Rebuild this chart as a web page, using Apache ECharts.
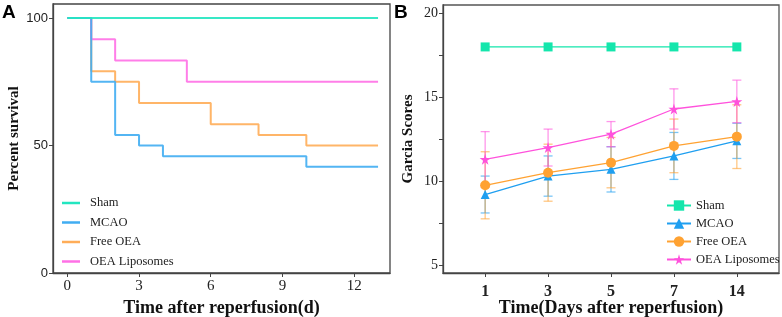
<!DOCTYPE html>
<html>
<head>
<meta charset="utf-8">
<script src="https://cdn.jsdelivr.net/npm/echarts@6/dist/echarts.min.js"></script>
<style>
  html, body { margin: 0; padding: 0; background: #ffffff; }
  #chart { width: 782px; height: 317px; }
</style>
</head>
<body>
<div id="chart"></div>
<script>
// panel A: Kaplan-Meier survival, [day, percent]
var groups = ['Sham', 'MCAO', 'Free OEA', 'OEA Liposomes'];
var survSham = [[0, 100], [13, 100]];
var survMcao = [[0, 100], [1, 75], [2, 54.17], [3, 50], [4, 45.83], [10, 41.67], [13, 41.67]];
var survFree = [[0, 100], [1, 79.17], [2, 75], [3, 66.67], [6, 58.33], [8, 54.17], [10, 50], [13, 50]];
var survLipo = [[0, 100], [1, 91.67], [2, 83.33], [5, 75], [13, 75]];
var survTicksX = [0, 3, 6, 9, 12];
var survTicksY = [0, 50, 100];

// panel B: Garcia scores, mean and SD
var days = ['1', '3', '5', '7', '14'];
var shamMean = [18, 18, 18, 18, 18];
var mcaoMean = [9.2, 10.3, 10.7, 11.5, 12.4];
var mcaoSd = [1.1, 1.2, 1.35, 1.4, 1.05];
var freeMean = [9.75, 10.5, 11.1, 12.1, 12.65];
var freeSd = [2.0, 1.7, 1.5, 1.6, 1.9];
var lipoMean = [11.3, 12.0, 12.8, 14.3, 14.75];
var lipoSd = [1.65, 1.1, 0.75, 1.2, 1.27];
var scoreTicks = [5, 10, 15, 20];
var scoreMinor = [5, 7.5, 10, 12.5, 15, 17.5, 20];

var colA = ['#22e6c0', '#40adf2', '#ffad58', '#ff70e6'];
var colB = ['#14e6ac', '#1f9ff0', '#ffa232', '#ff52dc'];
var serif = 'Liberation Serif';

function pts(mean) {
  return mean.map(function (v, i) { return [i, v]; });
}
function bars(mean, sd) {
  return mean.map(function (v, i) { return [i, v - sd[i], v + sd[i]]; });
}

function errRender(params, api) {
  var x = api.value(0);
  var top = api.coord([x, api.value(2)]);
  var bot = api.coord([x, api.value(1)]);
  var w = 4.5;
  var st = { stroke: api.visual('color'), lineWidth: 1.3, opacity: 0.6 };
  return {
    type: 'group',
    children: [
      { type: 'line', shape: { x1: top[0], y1: top[1], x2: bot[0], y2: bot[1] }, style: st },
      { type: 'line', shape: { x1: top[0] - w, y1: top[1], x2: top[0] + w, y2: top[1] }, style: st },
      { type: 'line', shape: { x1: bot[0] - w, y1: bot[1], x2: bot[0] + w, y2: bot[1] }, style: st }
    ]
  };
}

function errSeries(name, data, color) {
  return {
    name: name + ' sd', type: 'custom', xAxisIndex: 1, yAxisIndex: 1,
    renderItem: errRender, data: data, itemStyle: { color: color },
    encode: { x: 0, y: [1, 2] }, z: 1, silent: true
  };
}

function kmSeries(name, data, color, z) {
  return {
    name: name, type: 'line', step: 'end', data: data, showSymbol: false,
    symbol: 'none', xAxisIndex: 0, yAxisIndex: 0, z: z,
    lineStyle: { color: color, width: 2, opacity: 0.9 }, itemStyle: { color: color }
  };
}

function scoreSeries(name, data, color, symbol, size) {
  return {
    name: name, type: 'line', data: data, symbol: symbol, symbolSize: size,
    xAxisIndex: 1, yAxisIndex: 1, z: 3,
    lineStyle: { color: color, width: 1.3 }, itemStyle: { color: color }
  };
}

var chart = echarts.init(document.getElementById('chart'));
chart.setOption({
  animation: false,
  backgroundColor: '#ffffff',
  grid: [
    { left: 53, right: 392, top: 4, bottom: 44, outerBoundsMode: 'none', show: true, borderColor: '#444', borderWidth: 1.3 },
    { left: 443, right: 3, top: 5, bottom: 44, outerBoundsMode: 'none', show: true, borderColor: '#555', borderWidth: 1.3 }
  ],
  graphic: [
    { type: 'text', left: 2, top: 3, style: { text: 'A', font: 'bold 19px "Liberation Sans"', fill: '#000' } },
    { type: 'text', left: 394, top: 3, style: { text: 'B', font: 'bold 19px "Liberation Sans"', fill: '#000' } }
  ],
  legend: [
    {
      data: groups, orient: 'vertical', left: 57, top: 191, itemGap: 5.5,
      icon: 'rect', itemWidth: 18, itemHeight: 2.5,
      textStyle: { fontFamily: serif, fontSize: 12.5, color: '#222', lineHeight: 14, padding: [0, 0, 0, 5] },
      selectedMode: false
    },
    {
      data: groups.map(function (g) { return g + ' '; }), orient: 'vertical', left: 661, top: 194, itemGap: 5,
      itemWidth: 24, itemHeight: 13,
      textStyle: { fontFamily: serif, fontSize: 12.5, color: '#222' },
      selectedMode: false
    }
  ],
  xAxis: [
    {
      type: 'value', gridIndex: 0, min: -0.6, max: 13.5,
      axisLine: { show: true, onZero: false, lineStyle: { color: '#444', width: 1.3 } },
      axisTick: { show: true, length: 4, customValues: survTicksX, lineStyle: { color: '#444' } },
      axisLabel: { customValues: survTicksX, fontFamily: serif, fontSize: 15, color: '#222', margin: 6 },
      splitLine: { show: false },
      name: 'Time after reperfusion(d)', nameLocation: 'middle', nameGap: 26, nameMoveOverlap: false,
      nameTextStyle: { fontFamily: serif, fontWeight: 'bold', fontSize: 18, color: '#111' }
    },
    {
      type: 'value', gridIndex: 1, min: -0.67, max: 4.67,
      axisLine: { show: true, onZero: false, lineStyle: { color: '#444', width: 1.3 } },
      axisTick: { show: true, length: 4, customValues: [0, 1, 2, 3, 4], lineStyle: { color: '#444' } },
      axisLabel: {
        customValues: [0, 1, 2, 3, 4], fontFamily: serif, fontWeight: 'bold', fontSize: 16, color: '#222', margin: 11,
        formatter: function (v) { return days[Math.round(v)]; }
      },
      splitLine: { show: false },
      name: 'Time(Days after reperfusion)', nameLocation: 'middle', nameGap: 26, nameMoveOverlap: false,
      nameTextStyle: { fontFamily: serif, fontWeight: 'bold', fontSize: 18, color: '#111' }
    }
  ],
  yAxis: [
    {
      type: 'value', gridIndex: 0, min: 0, max: 105.5,
      axisLine: { show: true, onZero: false, lineStyle: { color: '#444', width: 1.3 } },
      axisTick: { show: true, length: 4, customValues: survTicksY, lineStyle: { color: '#444' } },
      axisLabel: { customValues: survTicksY, fontFamily: 'Liberation Sans', fontSize: 13, color: '#222', margin: 5 },
      splitLine: { show: false },
      name: 'Percent survival', nameLocation: 'middle', nameGap: 31, nameMoveOverlap: false,
      nameTextStyle: { fontFamily: serif, fontWeight: 'bold', fontSize: 15, color: '#111' }
    },
    {
      type: 'value', gridIndex: 1, min: 4.52, max: 20.5,
      axisLine: { show: true, onZero: false, lineStyle: { color: '#444', width: 1.3 } },
      axisTick: { show: true, length: 4, customValues: scoreMinor, lineStyle: { color: '#444' } },
      axisLabel: { customValues: scoreTicks, fontFamily: serif, fontSize: 14, color: '#222', margin: 5 },
      splitLine: { show: false },
      name: 'Garcia Scores', nameLocation: 'middle', nameGap: 27, nameMoveOverlap: false,
      nameTextStyle: { fontFamily: serif, fontWeight: 'bold', fontSize: 15, color: '#111' }
    }
  ],
  series: [
    kmSeries(groups[2], survFree, colA[2], 2),
    kmSeries(groups[3], survLipo, colA[3], 3),
    kmSeries(groups[1], survMcao, colA[1], 4),
    kmSeries(groups[0], survSham, colA[0], 5),

    errSeries('MCAO', bars(mcaoMean, mcaoSd), colB[1]),
    errSeries('Free OEA', bars(freeMean, freeSd), colB[2]),
    errSeries('OEA Liposomes', bars(lipoMean, lipoSd), colB[3]),
    scoreSeries(groups[0] + ' ', pts(shamMean), colB[0], 'rect', 9),
    scoreSeries(groups[1] + ' ', pts(mcaoMean), colB[1], 'triangle', 9),
    scoreSeries(groups[2] + ' ', pts(freeMean), colB[2], 'circle', 10),
    scoreSeries(groups[3] + ' ', pts(lipoMean), colB[3], 'path://M50,0 L61,35 L98,35 L68,57 L79,91 L50,70 L21,91 L32,57 L2,35 L39,35 Z', 11)
  ]
});
</script>
</body>
</html>
